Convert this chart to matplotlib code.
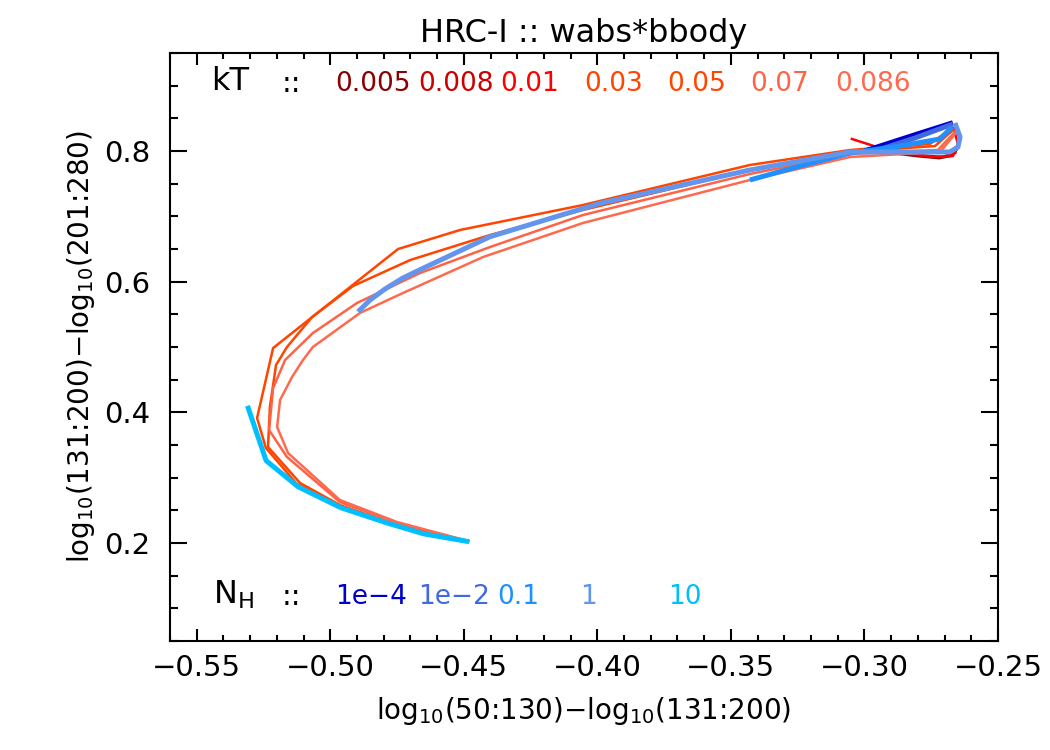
import matplotlib
matplotlib.use('Agg')
import matplotlib.pyplot as plt
from matplotlib.ticker import MultipleLocator

# kT grid (temperature), each line runs over N_H
kT_labels = ['0.005', '0.008', '0.01', '0.03', '0.05', '0.07', '0.086']
kT_colors = ['#8B0000', '#CD0000', '#FF0000', '#FF4500', '#FF4500', '#FF6347', '#FF6A4F']

kT_x = [
    [-0.290, -0.280, -0.272, -0.267, -0.265],
    [-0.292, -0.281, -0.271, -0.266, -0.265],
    [-0.3047, -0.2953, -0.285, -0.2743, -0.2669, -0.2650, -0.2665],
    [-0.4484, -0.4739, -0.4964, -0.5125, -0.5241, -0.5274, -0.5214, -0.4746, -0.4514,
     -0.4054, -0.3429, -0.3054, -0.2755, -0.2672],
    [-0.4484, -0.4739, -0.4964, -0.5113, -0.5233, -0.5226, -0.5203, -0.5162, -0.5068,
     -0.4915, -0.4701, -0.4402, -0.4054, -0.3429, -0.3054, -0.2736, -0.2668],
    [-0.4484, -0.4750, -0.4964, -0.5162, -0.5229, -0.5214, -0.5169, -0.5065, -0.4900,
     -0.4664, -0.4402, -0.4054, -0.3429, -0.3054, -0.2725, -0.2661],
    [-0.4484, -0.4750, -0.4964, -0.5158, -0.5199, -0.5188, -0.5143, -0.5102, -0.5065,
     -0.4889, -0.4728, -0.4428, -0.4054, -0.3429, -0.3054, -0.2717, -0.2661],
]
kT_y = [
    [0.797, 0.792, 0.789, 0.793, 0.805],
    [0.799, 0.794, 0.791, 0.797, 0.812],
    [0.8184, 0.8061, 0.797, 0.7908, 0.7923, 0.810, 0.835],
    [0.203, 0.2244, 0.2566, 0.2903, 0.3454, 0.3913, 0.4984, 0.6500, 0.6791,
     0.7173, 0.7786, 0.8015, 0.8107, 0.8352],
    [0.203, 0.226, 0.2581, 0.2918, 0.3469, 0.4081, 0.4724, 0.500, 0.5459,
     0.5933, 0.6331, 0.6714, 0.7097, 0.7709, 0.7985, 0.8076, 0.8321],
    [0.203, 0.2306, 0.2627, 0.3316, 0.3729, 0.4372, 0.4801, 0.5214, 0.5673,
     0.6132, 0.653, 0.702, 0.7648, 0.7954, 0.8015, 0.8291],
    [0.203, 0.2321, 0.2658, 0.3377, 0.3775, 0.4188, 0.4541, 0.4801, 0.500,
     0.552, 0.5826, 0.6377, 0.6898, 0.7556, 0.7908, 0.7985, 0.826],
]

# N_H grid (absorption), each line runs over kT
nh_labels = ['1e\u22124', '1e\u22122', '0.1', '1', '10']
nh_colors = ['#0000CD', '#4169E1', '#1E90FF', '#6495ED', '#00BFFF']

nh_x = [
    [-0.300, -0.2953, -0.2810, -0.2669],
    [-0.300, -0.2949, -0.2811, -0.2669],
    [-0.3429, -0.3241, -0.3054, -0.2867, -0.2717, -0.2672],
    [-0.4896, -0.4851, -0.4795, -0.4728, -0.4653, -0.4402, -0.3990, -0.3429, -0.3054,
     -0.2680, -0.2650, -0.2642, -0.2661],
    [-0.531, -0.524, -0.512, -0.496, -0.479, -0.465, -0.448],
]
nh_y = [
    [0.800, 0.8061, 0.825, 0.8433],
    [0.799, 0.8015, 0.8199, 0.8413],
    [0.7556, 0.777, 0.7969, 0.8076, 0.8184, 0.8367],
    [0.554, 0.5719, 0.5888, 0.6056, 0.6204, 0.6688, 0.7199, 0.7709, 0.7985,
     0.7985, 0.8061, 0.8214, 0.8429],
    [0.410, 0.326, 0.286, 0.254, 0.231, 0.214, 0.202],
]

fig = plt.figure(figsize=(10.5, 7.5), dpi=100)
ax = fig.add_axes([170/1050, 109/750, 828/1050, 588/750])

for xs, ys, c in zip(kT_x, kT_y, kT_colors):
    ax.plot(xs, ys, color=c, lw=1.8, solid_joinstyle='miter')
for xs, ys, c in zip(nh_x, nh_y, nh_colors):
    ax.plot(xs, ys, color=c, lw=3.6, solid_joinstyle='round', solid_capstyle='butt')

ax.set_xlim(-0.56, -0.25)
ax.set_ylim(0.05, 0.95)
ax.xaxis.set_major_locator(MultipleLocator(0.05))
ax.xaxis.set_minor_locator(MultipleLocator(0.01))
ax.yaxis.set_major_locator(MultipleLocator(0.2))
ax.yaxis.set_minor_locator(MultipleLocator(0.05))

ax.tick_params(axis='x', which='major', direction='in', length=8.6, width=1.5,
               top=True, pad=9, labelsize=21)
ax.tick_params(axis='x', which='minor', direction='in', length=4.3, width=1.5, top=True)
ax.tick_params(axis='y', which='major', direction='in', length=12, width=1.5,
               right=True, pad=14, labelsize=21)
ax.tick_params(axis='y', which='minor', direction='in', length=6, width=1.5, right=True)
for s in ax.spines.values():
    s.set_linewidth(1.5)

ax.set_xlabel('log$_{10}$(50:130)$-$log$_{10}$(131:200)', fontsize=20, labelpad=10)
ax.set_ylabel('log$_{10}$(131:200)$-$log$_{10}$(201:280)', fontsize=20, labelpad=5)
ax.set_title('HRC-I :: wabs*bbody', fontsize=23, pad=8)

# kT legend row
ax.text(0.0495, 0.952, 'kT', fontsize=23, transform=ax.transAxes, ha='left', va='center')
ax.text(0.147, 0.947, '::', fontsize=21, transform=ax.transAxes, ha='center', va='center')
kT_pos = [0.245, 0.345, 0.434, 0.536, 0.636, 0.736, 0.849]
for p, lab, c in zip(kT_pos, kT_labels, kT_colors):
    ax.text(p, 0.947, lab, color=c, fontsize=19, transform=ax.transAxes,
            ha='center', va='center')

# N_H legend row
ax.text(0.052, 0.078, 'N$_{\\rm H}$', fontsize=23, transform=ax.transAxes,
        ha='left', va='center')
ax.text(0.147, 0.074, '::', fontsize=21, transform=ax.transAxes, ha='center', va='center')
nh_pos = [0.243, 0.343, 0.421, 0.506, 0.622]
for p, lab, c in zip(nh_pos, nh_labels, nh_colors):
    ax.text(p, 0.075, lab, color=c, fontsize=19, transform=ax.transAxes,
            ha='center', va='center')

fig.savefig('out.png', dpi=100)
